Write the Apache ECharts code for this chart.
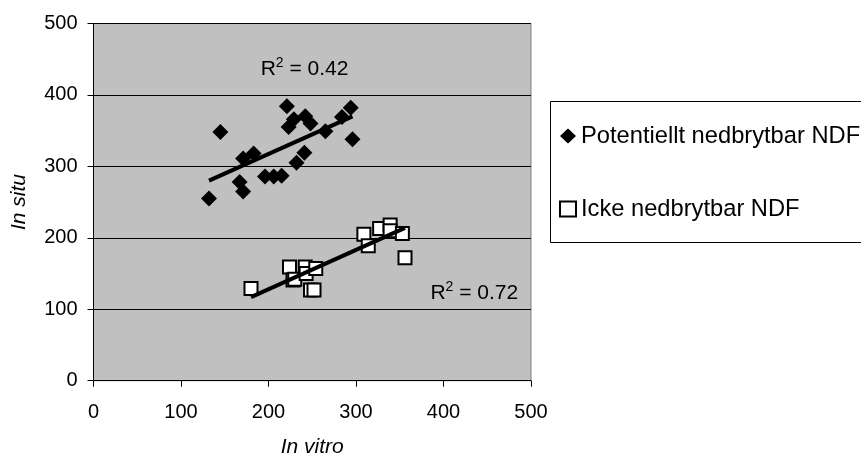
<!DOCTYPE html>
<html>
<head>
<meta charset="utf-8">
<script src="https://cdn.jsdelivr.net/npm/echarts@6/dist/echarts.min.js"></script>
<style>
html,body{margin:0;padding:0;background:#fff;}
#c{width:861px;height:457px;}
</style>
</head>
<body>
<div id="c"></div>
<script>
// ---- data ----
const seriesNames = ['Potentiellt nedbrytbar NDF', 'Icke nedbrytbar NDF'];
const axisTicks = [0, 100, 200, 300, 400, 500];
const potentiellt = [
  [145, 348], [132, 255], [167, 278], [171, 265], [171, 311], [183, 318],
  [196, 286], [206, 286], [215, 287], [221, 384], [223, 355], [229, 366],
  [232, 305], [241, 319], [242, 370], [248, 360], [265, 349], [284, 369],
  [294, 382], [296, 338]
];
const icke = [
  [180, 129], [224, 159], [228, 141], [230, 142], [242, 159], [243, 150],
  [254, 157], [248, 127], [252, 127], [309, 205], [314, 189], [327, 213],
  [339, 218], [339, 210], [353, 206], [356, 172]
];
const trendPotentiellt = [[132, 280], [296, 370]];
const trendIcke = [[180, 117], [356, 214]];
const r2Texts = ['0.42', '0.72'];
const r2Anchors = [[191, 438], [385, 124]];

const FONT = '"Liberation Sans", Arial, sans-serif';
const chart = echarts.init(document.getElementById('c'), null, {renderer: 'canvas'});

const axisCommon = {
  type: 'value', min: axisTicks[0], max: axisTicks[axisTicks.length - 1], interval: 100,
  axisLine: {show: true, lineStyle: {color: '#000', width: 1}},
  axisTick: {show: true, inside: false, length: 6, lineStyle: {color: '#000'}},
  axisLabel: {color: '#000', fontSize: 20, fontFamily: FONT},
  nameLocation: 'middle',
  nameTextStyle: {color: '#000', fontSize: 21, fontStyle: 'italic', fontFamily: FONT}
};

chart.setOption({
  animation: false,
  backgroundColor: '#fff',
  grid: {left: 93.5, right: 330, top: 23.5, bottom: 76.3, show: true,
         outerBoundsMode: 'none', containLabel: false,
         backgroundColor: '#c0c0c0', borderColor: '#808080', borderWidth: 1},
  xAxis: Object.assign({}, axisCommon, {
    name: 'In vitro', nameGap: 56,
    splitLine: {show: false},
    axisLabel: Object.assign({}, axisCommon.axisLabel, {margin: 22})
  }),
  yAxis: Object.assign({}, axisCommon, {
    name: 'In situ', nameGap: 64,
    splitLine: {show: true, lineStyle: {color: '#000', width: 1}},
    axisLabel: Object.assign({}, axisCommon.axisLabel, {margin: 16})
  }),
  legend: {
    data: [
      {name: seriesNames[0], icon: 'diamond', itemStyle: {color: '#000', opacity: 1}},
      {name: seriesNames[1], icon: 'rect', itemStyle: {color: '#fff', borderColor: '#000', borderWidth: 2, opacity: 1}}
    ],
    orient: 'vertical', left: 550, top: 101,
    padding: [23, 0, 21, 9],
    itemWidth: 16, itemHeight: 15, itemGap: 49,
    selectedMode: false,
    textStyle: {color: '#000', fontSize: 23.7, fontFamily: FONT, lineHeight: 24}
  },
  series: [
    {
      name: seriesNames[0], type: 'scatter', symbol: 'diamond', symbolSize: 16,
      itemStyle: {color: '#000', opacity: 1}, data: potentiellt, z: 2
    },
    {
      name: seriesNames[1], type: 'scatter', symbol: 'rect', symbolSize: 13,
      itemStyle: {color: '#fff', borderColor: '#000', borderWidth: 2, opacity: 1}, data: icke, z: 3
    },
    {
      name: 'trend1', type: 'line', data: trendPotentiellt, symbol: 'none',
      lineStyle: {color: '#000', width: 4}, z: 4, silent: true
    },
    {
      name: 'trend2', type: 'line', data: trendIcke, symbol: 'none',
      lineStyle: {color: '#000', width: 4}, z: 4, silent: true
    }
  ]
});

const graphics = [{
  type: 'rect', shape: {x: 550.5, y: 101.5, width: 400, height: 141},
  style: {fill: null, stroke: '#000', lineWidth: 1}, silent: true, z: -1
}];
r2Anchors.forEach(function (p, i) {
  const px = chart.convertToPixel({gridIndex: 0}, p);
  graphics.push({
    type: 'text', x: px[0], y: px[1], z: 10,
    style: {
      text: '{r|R}{s|2}{r| = ' + r2Texts[i] + '}',
      align: 'left', verticalAlign: 'middle',
      rich: {
        r: {fontSize: 21, fontFamily: FONT, fill: '#000', lineHeight: 24, verticalAlign: 'bottom'},
        s: {fontSize: 14, fontFamily: FONT, fill: '#000', lineHeight: 24, verticalAlign: 'top'}
      }
    }
  });
});
chart.setOption({graphic: graphics});
</script>
</body>
</html>
